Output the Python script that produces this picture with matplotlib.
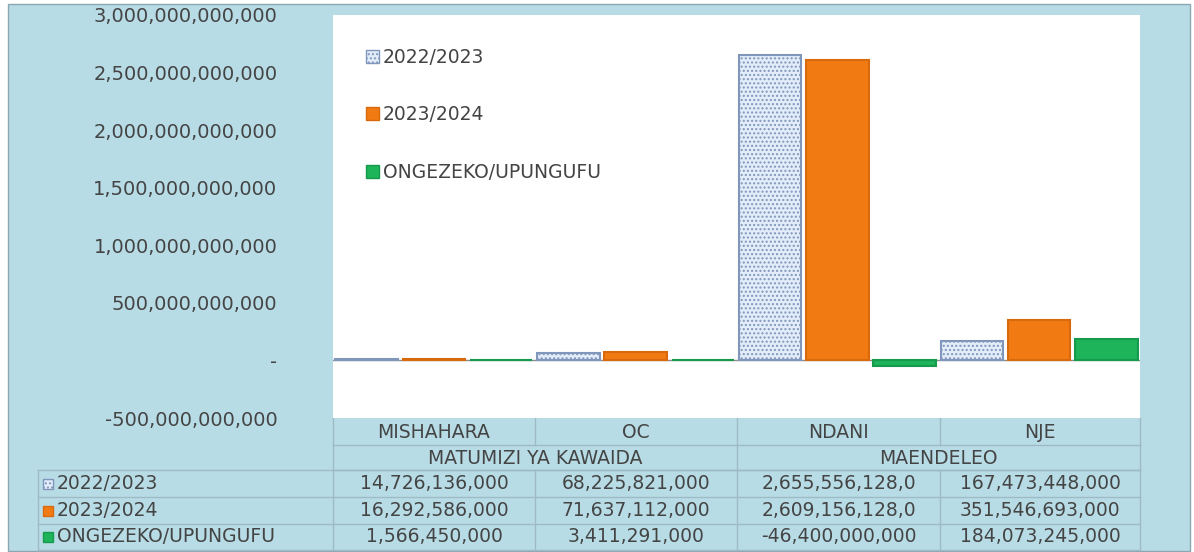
import numpy as np
import matplotlib
matplotlib.use("Agg")
import matplotlib.pyplot as plt
from matplotlib.patches import Rectangle, Patch

categories = ["MISHAHARA", "OC", "NDANI", "NJE"]
groups = ["MATUMIZI YA KAWAIDA", "MAENDELEO"]
series_names = ["2022/2023", "2023/2024", "ONGEZEKO/UPUNGUFU"]
fy_2022 = [14726136000, 68225821000, 2655556128000, 167473448000]
fy_2023 = [16292586000, 71637112000, 2609156128000, 351546693000]
change = [1566450000, 3411291000, -46400000000, 184073245000]
table_text = [
    ["14,726,136,000", "68,225,821,000", "2,655,556,128,0", "167,473,448,000"],
    ["16,292,586,000", "71,637,112,000", "2,609,156,128,0", "351,546,693,000"],
    ["1,566,450,000", "3,411,291,000", "-46,400,000,000", "184,073,245,000"],
]
yticks = [-500e9, 0, 500e9, 1000e9, 1500e9, 2000e9, 2500e9, 3000e9]
ytick_labels = ["-500,000,000,000", "-", "500,000,000,000", "1,000,000,000,000",
                "1,500,000,000,000", "2,000,000,000,000", "2,500,000,000,000",
                "3,000,000,000,000"]

BG = "#b8dce6"
TXT = "#444444"
GRID = "#9dbac5"
face = ["#e2edf9", "#f27a12", "#1db45a"]
edge = ["#8196bb", "#d8690c", "#169a4b"]
hatches = ["....", None, None]

W, H = 1194, 552
fig = plt.figure(figsize=(W / 100, H / 100), dpi=100)
fig.patch.set_facecolor("white")

# overlay in pixel coordinates for the frame and the data table
ov = fig.add_axes([0, 0, 1, 1], zorder=0)
ov.set_xlim(0, W)
ov.set_ylim(H, 0)
ov.axis("off")
ov.add_patch(Rectangle((8, 4), 1182, 547, facecolor=BG, edgecolor="#8aa7b2", lw=1))


def px_axes(x0, y0, x1, y1):
    return [x0 / W, 1 - y1 / H, (x1 - x0) / W, (y1 - y0) / H]


ax = fig.add_axes(px_axes(333, 15, 1140, 418), zorder=2)
ax.set_facecolor("white")
x = np.arange(len(categories))
bw = 0.31
for i, vals in enumerate([fy_2022, fy_2023, change]):
    ax.bar(x + (i - 1) / 3, vals, width=bw, facecolor=face[i], edgecolor=edge[i],
           hatch=hatches[i], linewidth=1.5, label=series_names[i], zorder=3)
ax.axhline(0, color="#8c8c8c", lw=1, zorder=2)
ax.set_xlim(-0.5, 3.5)
ax.set_ylim(-500e9, 3000e9)
ax.set_yticks(yticks)
ax.set_yticklabels(ytick_labels)
ax.set_xticks([])
ax.tick_params(axis="y", length=0, pad=40, labelsize=14, labelcolor=TXT)
for s in ax.spines.values():
    s.set_visible(False)

handles = [Patch(facecolor=face[i], edgecolor=edge[i], hatch=hatches[i]) for i in range(3)]
ax.legend(handles, series_names, loc="upper left", bbox_to_anchor=(0.02, 0.96),
          frameon=False, fontsize=13.5, labelcolor=TXT, handlelength=0.7,
          handleheight=0.7, handletextpad=0.2, labelspacing=2.05)

# data table below the plot
cols = [333, 535, 737, 940, 1140]
rows = [418, 445, 470, 497, 524, 550]
fs = 13.5
# header rows
ov.plot([333, 1140], [445, 445], color=GRID, lw=1)
ov.plot([333, 1140], [470, 470], color=GRID, lw=1)
for c in cols:
    ov.plot([c, c], [418, 445], color=GRID, lw=1)
for c in [333, 737, 1140]:
    ov.plot([c, c], [445, 470], color=GRID, lw=1)
for j, name in enumerate(categories):
    ov.text((cols[j] + cols[j + 1]) / 2, 432, name, ha="center", va="center",
            fontsize=fs, color=TXT)
ov.text((333 + 737) / 2, 458, groups[0], ha="center", va="center", fontsize=fs, color=TXT)
ov.text((737 + 1140) / 2, 458, groups[1], ha="center", va="center", fontsize=fs, color=TXT)

# value rows
for r in rows[2:]:
    ov.plot([38, 1140], [r, r], color=GRID, lw=1)
for c in [38] + cols:
    ov.plot([c, c], [470, 550], color=GRID, lw=1)
for i in range(3):
    yc = (rows[i + 2] + rows[i + 3]) / 2
    ov.add_patch(Rectangle((43, yc - 5), 10, 10, facecolor=face[i], edgecolor=edge[i],
                           hatch=hatches[i], lw=1))
    ov.text(57, yc, series_names[i], ha="left", va="center", fontsize=fs, color=TXT)
    for j in range(4):
        ov.text((cols[j] + cols[j + 1]) / 2, yc, table_text[i][j], ha="center",
                va="center", fontsize=fs, color=TXT)

fig.savefig("out.png", dpi=100, facecolor=fig.get_facecolor())
